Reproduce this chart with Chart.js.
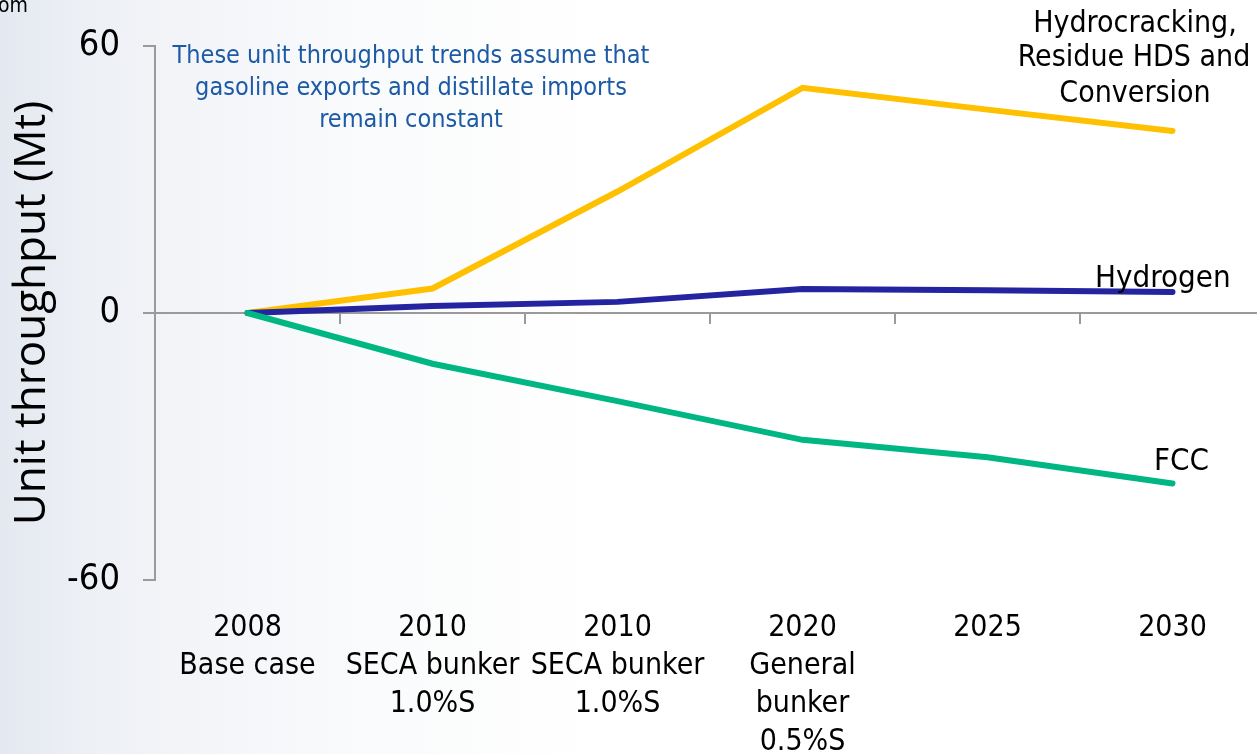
<!DOCTYPE html>
<html>
<head>
<meta charset="utf-8">
<script src="https://cdn.jsdelivr.net/npm/chart.js@4/dist/chart.umd.min.js"></script>
<style>
  html, body { margin: 0; padding: 0; overflow: hidden; }
  body {
    width: 1257px; height: 754px;
    background: linear-gradient(to right, #e4e8f0 0%, #edf0f5 7%, #f4f5f9 16%, #fafbfc 30%, #ffffff 48%);
  }
  #wrap { width: 1265px; height: 754px; }
</style>
</head>
<body>
<div id="wrap"><canvas id="chart" width="1265" height="754"></canvas></div>
<script>
// scenario categories (multi-line axis labels)
const categories = [
  ['2008', 'Base case'],
  ['2010', 'SECA bunker', '1.0%S'],
  ['2010', 'SECA bunker', '1.0%S'],
  ['2020', 'General', 'bunker', '0.5%S'],
  ['2025'],
  ['2030']
];

// unit throughput change vs. base case, Mt
const hydrocracking = [0, 5.5, 27.3, 50.6, 45.7, 40.9];
const hydrogen      = [0, 1.6, 2.5, 5.4, 5.1, 4.7];
const fcc           = [0, -11.4, -19.8, -28.5, -32.4, -38.3];

const yTicks = [-60, 0, 60];

const FONT = "'DejaVu Sans Condensed', 'DejaVu Sans', sans-serif";
const AXIS_GREY = '#9a9a9a';

// free text drawn over the plot: note, series names, corner fragment
const notes = {
  id: 'notes',
  afterDraw(chart) {
    const ctx = chart.ctx;
    ctx.save();
    ctx.textBaseline = 'alphabetic';

    ctx.fillStyle = '#000';
    ctx.font = '21px ' + FONT;
    ctx.textAlign = 'right';
    ctx.fillText('om', 28, 12);

    ctx.fillStyle = '#1c5aa6';
    ctx.font = '25px ' + FONT;
    ctx.textAlign = 'center';
    ctx.fillText('These unit throughput trends assume that', 411, 63);
    ctx.fillText('gasoline exports and distillate imports', 411, 95);
    ctx.fillText('remain constant', 411, 127);

    ctx.fillStyle = '#000';
    ctx.font = '30px ' + FONT;
    ctx.fillText('Hydrocracking,', 1135, 32);
    ctx.fillText('Residue HDS and', 1134, 66);
    ctx.fillText('Conversion', 1135, 102);

    ctx.font = '31px ' + FONT;
    ctx.textAlign = 'left';
    ctx.fillText('Hydrogen', 1095, 287);
    ctx.fillText('FCC', 1154, 470);
    ctx.restore();
  }
};

function series(data, color) {
  return {
    data: data,
    borderColor: color,
    backgroundColor: color,
    borderWidth: 6,
    borderCapStyle: 'round',
    pointRadius: 0,
    tension: 0,
    fill: false
  };
}

new Chart(document.getElementById('chart'), {
  type: 'line',
  data: {
    labels: categories,
    datasets: [
      series(fcc, '#00b784'),
      series(hydrogen, '#2424a0'),
      series(hydrocracking, '#ffc000')
    ]
  },
  options: {
    responsive: false,
    animation: false,
    layout: { padding: { top: 46, left: 0, right: 0, bottom: 0 } },
    plugins: {
      legend: { display: false },
      tooltip: { enabled: false }
    },
    scales: {
      x: {
        type: 'category',
        offset: true,
        afterFit: s => { s.height = 174; },
        grid: { display: false, drawTicks: false },
        border: { display: false },
        ticks: {
          autoSkip: false,
          maxRotation: 0,
          minRotation: 0,
          padding: 29,
          color: '#000',
          font: { family: FONT, size: 30, lineHeight: 1.27 }
        }
      },
      xZero: {
        type: 'category',
        axis: 'x',
        labels: categories,
        position: { y: 0 },
        offset: true,
        grid: { offset: true, drawOnChartArea: false, tickLength: 10, color: AXIS_GREY, lineWidth: 2 },
        border: { color: AXIS_GREY, width: 2 },
        ticks: { display: false }
      },
      y: {
        min: -60,
        max: 60,
        afterFit: s => { s.width = 155; },
        afterBuildTicks: s => { s.ticks = yTicks.map(v => ({ value: v })); },
        grid: { drawOnChartArea: false, tickLength: 12, color: AXIS_GREY, lineWidth: 2 },
        border: { color: AXIS_GREY, width: 2 },
        ticks: {
          padding: 23,
          color: '#000',
          font: { family: FONT, size: 36 }
        },
        title: {
          display: true,
          text: 'Unit throughput (Mt)',
          color: '#000',
          padding: { top: 6, bottom: 0 },
          font: { family: "'Open Sans', sans-serif", size: 44 }
        }
      }
    }
  },
  plugins: [notes]
});
</script>
</body>
</html>
